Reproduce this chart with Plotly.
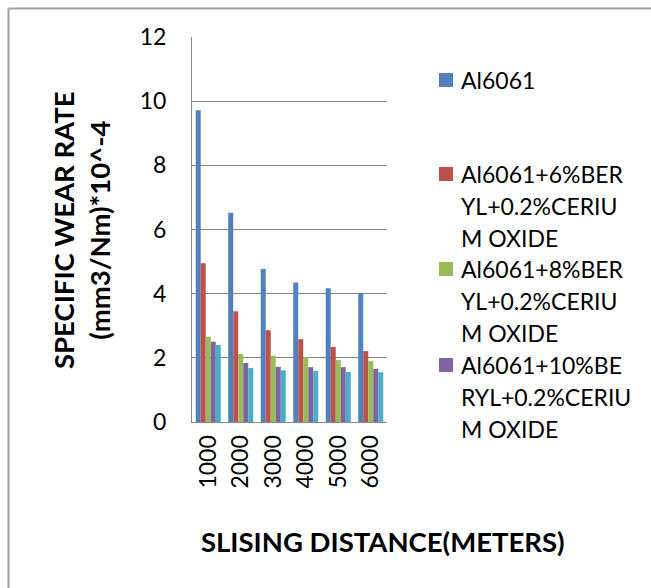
import plotly.graph_objects as go

categories = ["1000", "2000", "3000", "4000", "5000", "6000"]
series_names = [
    "Al6061",
    "Al6061+6%BERYL+0.2%CERIUM OXIDE",
    "Al6061+8%BERYL+0.2%CERIUM OXIDE",
    "Al6061+10%BERYL+0.2%CERIUM OXIDE",
    "Series5",
]
al6061 = [9.72, 6.52, 4.77, 4.35, 4.17, 4.02]
ber6 = [4.95, 3.45, 2.86, 2.58, 2.34, 2.21]
ber8 = [2.66, 2.12, 2.07, 2.02, 1.93, 1.90]
ber10 = [2.50, 1.84, 1.72, 1.71, 1.71, 1.66]
series5 = [2.40, 1.68, 1.61, 1.59, 1.56, 1.55]
legend_lines = [
    ["Al6061"],
    ["Al6061+6%BER", "YL+0.2%CERIU", "M OXIDE"],
    ["Al6061+8%BER", "YL+0.2%CERIU", "M OXIDE"],
    ["Al6061+10%BE", "RYL+0.2%CERIU", "M OXIDE"],
]
colors = ["#4F81BD", "#C0504D", "#9BBB59", "#8064A2", "#4BACC6"]

W, H = 651, 588
L, R, T, B = 192, 387, 37, 422  # plot area in px


def px(x):
    return (x - L) / (R - L)


def py(y):
    return (B - y) / (B - T)


FONT = "Lato, Carlito, Calibri, sans-serif"
TICK = 23
LEG = 23
TITLE = 27.5

fig = go.Figure()
for name, vals, col in zip(series_names, [al6061, ber6, ber8, ber10, series5], colors):
    fig.add_trace(go.Bar(x=categories, y=vals, name=name, marker=dict(color=col, line=dict(width=0)),
                         showlegend=False))

fig.update_layout(
    width=W, height=H,
    margin=dict(l=L, r=W - R, t=T, b=H - B, pad=0),
    paper_bgcolor="white", plot_bgcolor="white",
    barmode="group", bargap=0.23, bargroupgap=0,
    font=dict(family=FONT, size=TICK, color="black"),
    xaxis=dict(type="category", showgrid=False, showline=True, linecolor="#868686", linewidth=1,
               tickangle=-90, ticks="", ticklabelstandoff=3, tickfont=dict(size=TICK)),
    yaxis=dict(range=[0, 12], dtick=2, showgrid=True, gridcolor="#868686", gridwidth=1,
               showline=True, linecolor="#868686", linewidth=1, zeroline=False, ticks="",
               ticklabelstandoff=20, tickfont=dict(size=TICK)),
)

annotations = [
    dict(text="<b>SPECIFIC WEAR RATE<br>(mm3/Nm)*10^-4</b>", x=px(81), y=py(230), xref="paper", yref="paper",
         textangle=-90, showarrow=False, font=dict(size=TITLE), align="center", xanchor="center", yanchor="middle"),
    dict(text="<b>SLISING DISTANCE(METERS)</b>", x=px(383), y=py(541), xref="paper", yref="paper",
         showarrow=False, font=dict(size=TITLE), xanchor="center", yanchor="middle"),
]
shapes = [
    # outer chart border (left and top edges visible)
    dict(type="line", xref="paper", yref="paper", x0=px(8.5), x1=px(8.5), y0=py(8.5), y1=py(700),
         line=dict(color="#A0A0A0", width=2)),
    dict(type="line", xref="paper", yref="paper", x0=px(8.5), x1=px(900), y0=py(8.5), y1=py(8.5),
         line=dict(color="#A0A0A0", width=2)),
]
entry_y = [80, 174, 269, 365]
for lines, ey, col in zip(legend_lines, entry_y, colors):
    shapes.append(dict(type="rect", xref="paper", yref="paper", x0=px(439), x1=px(453),
                       y0=py(ey - 7), y1=py(ey + 7), fillcolor=col, line=dict(width=0)))
    for i, t in enumerate(lines):
        annotations.append(dict(text=t, x=px(459), y=py(ey + i * 32), xref="paper", yref="paper",
                                showarrow=False, xanchor="left", yanchor="middle", font=dict(size=LEG)))

fig.update_layout(annotations=annotations, shapes=shapes)
fig.write_html("out.html")
